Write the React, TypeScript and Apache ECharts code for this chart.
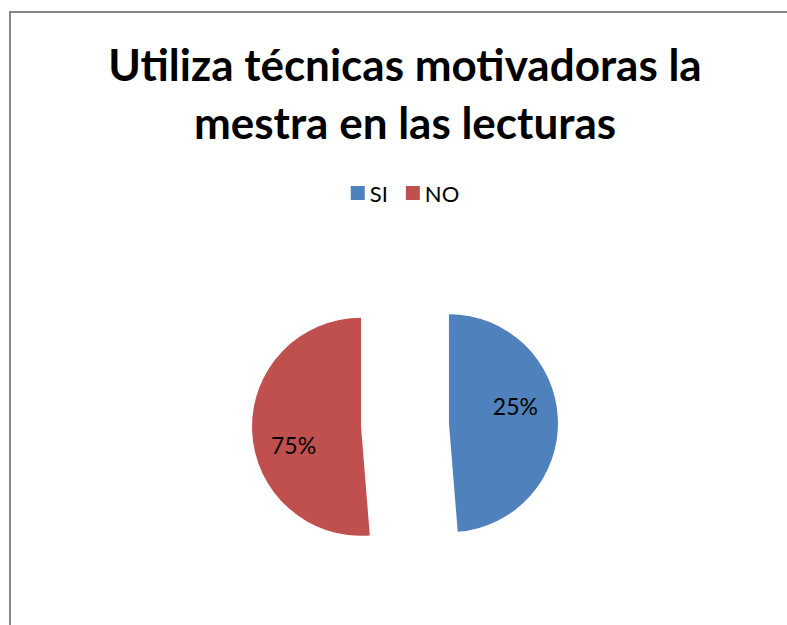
import React, { useEffect, useRef } from "react";
import * as echarts from "echarts";

const titleText = "Utiliza técnicas motivadoras la\nmestra en las lecturas";
const categories = ["SI", "NO"];
const values = [19, 20];
const valueLabels = ["25%", "75%"];
const colors = ["#4F81BD", "#C0504D"];
const labelShifts = [
  [9, -15],
  [-10, 16],
];

export default function App() {
  const ref = useRef<HTMLDivElement>(null);
  useEffect(() => {
    if (!ref.current) return;
    const chart = echarts.init(ref.current, null, { renderer: "svg" });
    const font = "Lato, Carlito, Calibri, 'Open Sans', sans-serif";
    chart.setOption({
      animation: false,
      backgroundColor: "#ffffff",
      title: {
        text: titleText,
        left: "center",
        top: 35,
        padding: 0,
        textStyle: {
          fontFamily: font,
          fontWeight: "bold",
          fontSize: 44,
          lineHeight: 58,
          color: "#000000",
        },
      },
      legend: {
        top: 182,
        left: "center",
        padding: 0,
        itemWidth: 14,
        itemHeight: 14,
        itemGap: 18,
        icon: "rect",
        data: categories,
        textStyle: { fontFamily: font, fontSize: 22, color: "#000000" },
      },
      graphic: [
        {
          type: "rect",
          shape: { x: 10, y: 12, width: 1000, height: 800 },
          style: { fill: "none", stroke: "#878787", lineWidth: 2 },
          silent: true,
        },
      ],
      series: [
        {
          type: "pie",
          center: [405, 425],
          radius: 109,
          startAngle: 90,
          clockwise: true,
          selectedMode: "multiple",
          selectedOffset: 44,
          avoidLabelOverlap: false,
          emphasis: { disabled: true },
          label: {
            show: true,
            position: "inside",
            fontFamily: font,
            fontSize: 23,
            color: "#000000",
          },
          labelLine: { show: false },
          labelLayout: (params: any) => {
            const s = labelShifts[params.dataIndex] || [0, 0];
            return { dx: s[0], dy: s[1] };
          },
          data: categories.map((name, i) => ({
            name,
            value: values[i],
            selected: true,
            itemStyle: { color: colors[i] },
            label: { formatter: valueLabels[i] },
          })),
        },
      ],
    });
    return () => chart.dispose();
  }, []);
  return (
    <div
      style={{
        position: "absolute",
        left: 0,
        top: 0,
        width: 787,
        height: 625,
        overflow: "hidden",
        background: "#fff",
      }}
    >
      <div ref={ref} style={{ width: 810, height: 625 }} />
    </div>
  );
}
